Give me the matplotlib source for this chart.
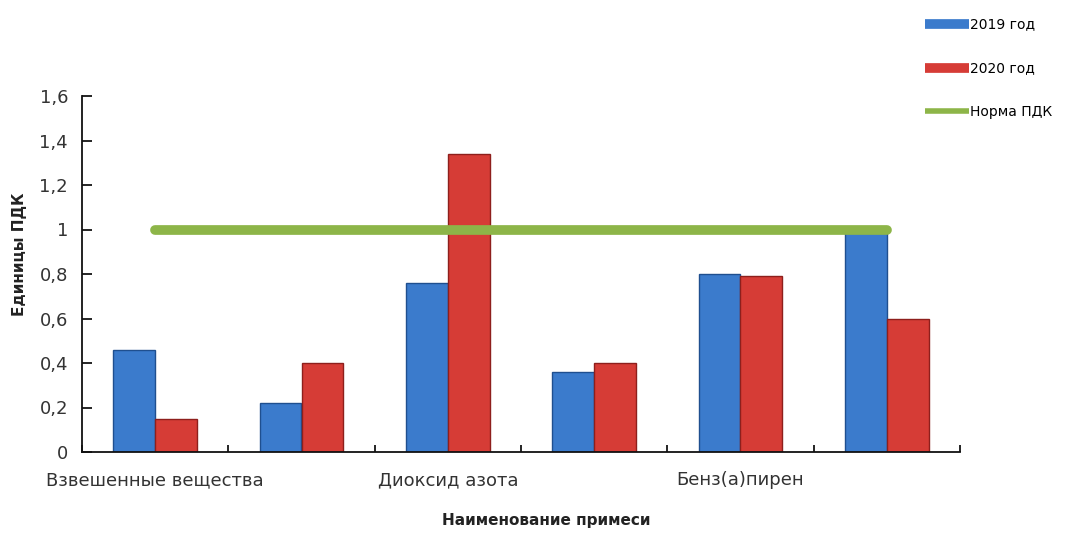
import matplotlib
matplotlib.use("Agg")
import matplotlib.pyplot as plt
import numpy as np
from matplotlib.lines import Line2D

categories = ["Взвешенные вещества", "Диоксид серы", "Диоксид азота",
              "Оксид углерода", "Бенз(а)пирен", "Формальдегид"]
tick_labels = ["Взвешенные вещества", "", "Диоксид азота", "", "Бенз(а)пирен", ""]
values_2019 = [0.46, 0.22, 0.76, 0.36, 0.80, 0.99]
values_2020 = [0.15, 0.40, 1.34, 0.40, 0.79, 0.60]
norm_pdk = [1, 1, 1, 1, 1, 1]
series_names = ["2019 год", "2020 год", "Норма ПДК"]
yticks = [0, 0.2, 0.4, 0.6, 0.8, 1.0, 1.2, 1.4, 1.6]
ytick_labels = ["0", "0,2", "0,4", "0,6", "0,8", "1", "1,2", "1,4", "1,6"]

blue = "#3b7bcc"
blue_edge = "#1f4f8f"
red = "#d63c36"
red_edge = "#8e1f1c"
green = "#8db548"

plt.rcParams['font.family'] = ['DejaVu Sans']
fig = plt.figure(figsize=(10.71, 5.37), dpi=100)
ax = fig.add_axes([82/1071, 1-452/537, (960-82)/1071, (452-96)/537])

x = np.arange(len(categories))
w = 0.285
ax.bar(x - w/2, values_2019, width=w, color=blue, edgecolor=blue_edge, linewidth=1.0, zorder=2)
ax.bar(x + w/2, values_2020, width=w, color=red, edgecolor=red_edge, linewidth=1.0, zorder=2)
ax.plot(x, norm_pdk, color=green, linewidth=7, solid_capstyle='round', zorder=3)

ax.set_xlim(-0.5, len(categories) - 0.5)
ax.set_ylim(0, 1.6)
ax.set_yticks(yticks)
ax.set_yticklabels(ytick_labels, fontsize=13, color="#333333")
ax.set_xticks(x)
ax.set_xticklabels(tick_labels, fontsize=13, color="#333333")
ax.tick_params(axis='x', length=0, pad=14)
ax.set_xticks(np.arange(len(categories) + 1) - 0.5, minor=True)
ax.tick_params(axis='x', which='minor', direction='in', length=5, width=1.2)
ax.tick_params(axis='y', direction='in', length=7, width=1.2, pad=10)
for s in ['top', 'right']:
    ax.spines[s].set_visible(False)
for s in ['left', 'bottom']:
    ax.spines[s].set_linewidth(1.3)
    ax.spines[s].set_color("#111111")

ax.set_ylabel("Единицы ПДК", fontsize=11, fontweight='bold', color="#222222")
ax.yaxis.set_label_coords(-0.063, 0.556)
fig.text(546/1071, 1 - 520/537, "Наименование примеси", fontsize=11, fontweight='bold',
         color="#222222", ha='center', va='center')

handles = [Line2D([], [], color=blue, lw=7, solid_capstyle='butt'),
           Line2D([], [], color=red, lw=7, solid_capstyle='butt'),
           Line2D([], [], color=green, lw=4, solid_capstyle='butt')]
fig.legend(handles, series_names, loc='upper left', bbox_to_anchor=(912/1071, 1 - 5/537),
           frameon=False, fontsize=10, handlelength=3.2, handletextpad=0.1,
           labelspacing=2.15)

fig.savefig("out.png", dpi=100, facecolor="white")
